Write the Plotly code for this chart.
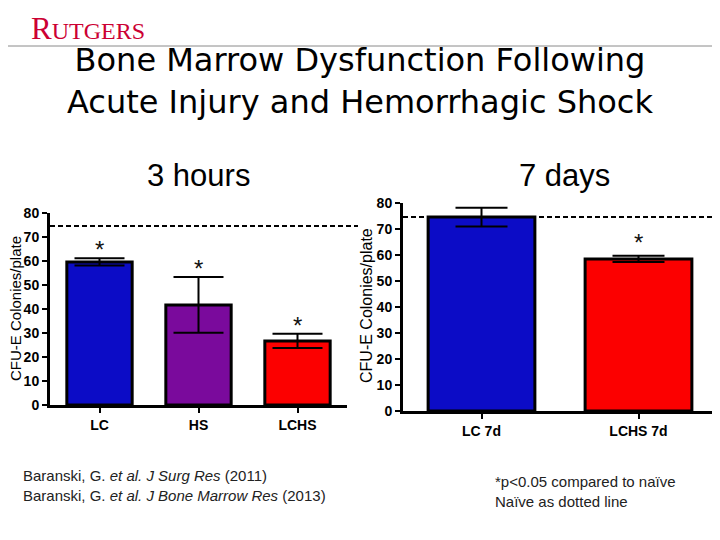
import plotly.graph_objects as go

# ---- data ----
cats_3h = ["LC", "HS", "LCHS"]
vals_3h = [59.6, 41.7, 26.7]
err_3h = [1.5, 11.6, 3.0]
colors_3h = ["#0c0cc6", "#7a0a9c", "#fc0000"]
sig_3h = [True, True, True]

cats_7d = ["LC 7d", "LCHS 7d"]
vals_7d = [74.6, 58.5]
err_7d = [3.6, 1.2]
colors_7d = ["#0c0cc6", "#fc0000"]
sig_7d = [False, True]

naive_3h = 74.6
naive_7d = 74.6
y_ticks = [0, 10, 20, 30, 40, 50, 60, 70, 80]
y_title = "CFU-E Colonies/plate"

W, H = 720, 540
OFF = 8  # page body margin


def px(x):
    return (x - OFF) / W


def py(y):
    return 1 - (y - OFF) / H


fig = go.Figure()

fig.add_trace(go.Bar(
    x=cats_3h, y=vals_3h, xaxis="x", yaxis="y",
    marker=dict(color=colors_3h, line=dict(color="black", width=3)),
    width=0.66,
    error_y=dict(type="data", array=err_3h, color="black", thickness=2, width=25),
    showlegend=False,
))
fig.add_trace(go.Bar(
    x=cats_7d, y=vals_7d, xaxis="x2", yaxis="y2",
    marker=dict(color=colors_7d, line=dict(color="black", width=3)),
    width=0.68,
    error_y=dict(type="data", array=err_7d, color="black", thickness=2, width=26),
    showlegend=False,
))

tick_font = dict(family="Liberation Sans, Arial", size=14, color="black", weight="bold")
xtick_font = dict(family="Liberation Sans, Arial", size=14, color="black", weight="bold")
title_font_l = dict(family="Liberation Sans, Arial", size=15, color="black")
title_font_r = dict(family="Liberation Sans, Arial", size=16, color="black")

common_x = dict(showline=True, linecolor="black", linewidth=3, ticks="outside", ticklen=5,
                tickwidth=2, tickcolor="black", showgrid=False, zeroline=False,
                automargin=False, tickfont=xtick_font)
common_y = dict(showline=True, linecolor="black", linewidth=3, ticks="outside", ticklen=5,
                tickwidth=2, tickcolor="black", showgrid=False, tickfont=tick_font,
                zeroline=False, range=[0, 80], tickvals=y_ticks, ticklabelstandoff=0,
                automargin=False)

fig.update_layout(
    width=W, height=H, autosize=False,
    margin=dict(l=0, r=0, t=0, b=0),
    paper_bgcolor="white", plot_bgcolor="rgba(0,0,0,0)",
    xaxis=dict(domain=[px(50), px(347)], range=[-0.5, 2.5], anchor="y", **common_x),
    yaxis=dict(domain=[py(405), py(213)], anchor="x", **common_y),
    xaxis2=dict(domain=[px(403), px(717)], range=[-0.5, 1.5], anchor="y2", **common_x),
    yaxis2=dict(domain=[py(411), py(203)], anchor="x2", **common_y),
)

dash = dict(color="black", width=2, dash="5px,3px")
shapes = [
    dict(type="line", xref="paper", yref="y", x0=px(50), x1=px(358), y0=naive_3h, y1=naive_3h,
         line=dash),
    dict(type="line", xref="paper", yref="y2", x0=px(403), x1=px(720), y0=naive_7d, y1=naive_7d,
         line=dash),
    dict(type="line", xref="paper", yref="paper", x0=0, x1=1, y0=py(46), y1=py(46),
         line=dict(color="#8a8a8a", width=1)),
]
fig.update_layout(shapes=shapes)

ann = []
star_font = dict(family="Liberation Sans, Arial", size=24, color="#111")
for c, v, e, s in zip(cats_3h, vals_3h, err_3h, sig_3h):
    if s:
        ann.append(dict(x=c, y=v + e, xref="x", yref="y", text="*", showarrow=False,
                        yanchor="bottom", yshift=-7, font=star_font))
for c, v, e, s in zip(cats_7d, vals_7d, err_7d, sig_7d):
    if s:
        ann.append(dict(x=c, y=v + e, xref="x2", yref="y2", text="*", showarrow=False,
                        yanchor="bottom", yshift=-2, font=star_font))

# y-axis titles
ann.append(dict(x=px(15), y=py(309), xref="paper", yref="paper", xanchor="center",
                yanchor="middle", textangle=-90, showarrow=False, text=y_title, font=title_font_l))
ann.append(dict(x=px(366), y=py(306), xref="paper", yref="paper", xanchor="center",
                yanchor="middle", textangle=-90, showarrow=False, text=y_title, font=title_font_r))

# logo
ann.append(dict(x=px(29), y=py(9), xref="paper", yref="paper", xanchor="left", yanchor="top",
                showarrow=False,
                text="<span style='font-size:31px'>R</span>UTGERS",
                font=dict(family="Liberation Serif, Times New Roman", size=24, color="#cc0033")))
# title
ann.append(dict(x=px(360), y=py(81), xref="paper", yref="paper", xanchor="center",
                yanchor="middle", showarrow=False,
                text="Bone Marrow Dysfunction Following<br>Acute Injury and Hemorrhagic Shock",
                font=dict(family="DejaVu Sans, Verdana", size=32, color="black")))
# subtitles
sub_font = dict(family="Liberation Sans, Arial", size=31, color="black")
ann.append(dict(x=px(198), y=py(175), xref="paper", yref="paper", xanchor="center",
                yanchor="middle", showarrow=False, text="3 hours", font=sub_font))
ann.append(dict(x=px(564), y=py(175), xref="paper", yref="paper", xanchor="center",
                yanchor="middle", showarrow=False, text="7 days", font=sub_font))
# footnotes
foot_font = dict(family="Liberation Sans, Arial", size=15, color="#222")
ann.append(dict(x=px(21), y=py(485), xref="paper", yref="paper", xanchor="left",
                yanchor="middle", align="left", showarrow=False,
                text="Baranski, G. <i>et al. J Surg Res</i> (2011)<br>"
                     "Baranski, G. <i>et al. J Bone Marrow Res</i> (2013)",
                font=foot_font))
ann.append(dict(x=px(493), y=py(491), xref="paper", yref="paper", xanchor="left",
                yanchor="middle", align="left", showarrow=False,
                text="*p<0.05 compared to naïve<br>Naïve as dotted line",
                font=foot_font))
fig.update_layout(annotations=ann)

fig.write_html("out.html")
